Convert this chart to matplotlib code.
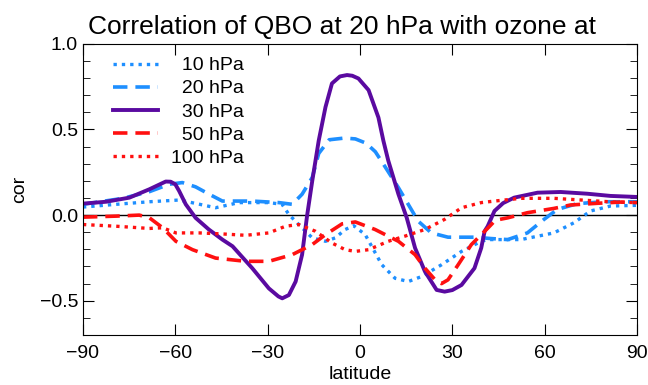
import matplotlib.pyplot as plt
import numpy as np

plt.rcParams['font.family'] = ['Liberation Sans', 'DejaVu Sans']

# latitude / correlation pairs, one pair of lists per level
lat_10 = [-90, -79.2, -68.4, -58.8, -54.4, -46.9, -39.3, -29.6, -25.3, -23.1, -19.9, -15.5, -11.2, -8, -4.8, -2, 1.7,
          7.1, 11.4, 15.7, 20, 26.5, 33, 39.4, 41.5, 52.3, 63, 69.5, 74.9, 81.4, 90]
cor_10 = [0.047, 0.063, 0.078, 0.088, 0.072, 0.043, 0.073, 0.073, 0.063, 0.004, -0.055, -0.133, -0.153, -0.133, -0.084, -0.062, -0.114,
          -0.29, -0.369, -0.388, -0.359, -0.29, -0.212, -0.153, -0.143, -0.143, -0.104, -0.045, 0.024, 0.053, 0.057]

lat_20 = [-90, -77, -68.4, -62, -57.7, -53.4, -49, -44.7, -35, -26.3, -22, -18.8, -15.5, -13.4, -10, -5, -1.5, 2, 5,
          7.6, 12.5, 18.9, 23.2, 28.6, 37.2, 42.6, 48, 54.4, 59.8, 64.1, 70.6, 79.2, 90]
cor_20 = [0.063, 0.098, 0.137, 0.18, 0.19, 0.165, 0.122, 0.082, 0.082, 0.073, 0.063, 0.122, 0.22, 0.36, 0.44, 0.45, 0.445, 0.42, 0.37,
          0.298, 0.16, -0.035, -0.104, -0.129, -0.129, -0.137, -0.143, -0.104, -0.025, 0.033, 0.067, 0.078, 0.078]

lat_30 = [-90, -82.5, -74.9, -68.4, -65, -63.1, -61.5, -60, -58.75, -56.6, -53.4, -49.1, -44.7, -41.4, -35, -29.6, -26.5,
          -25.25, -23.1, -20.9, -18.8, -17.2, -15.5, -13.4, -11.2, -9.1, -6.5, -4.2, -2.5, -0.5, 2.8, 6, 7.6, 9.2,
          12.5, 15.2, 17.9, 21.1, 24.9, 27.5, 30, 33, 37.2, 39.4, 40.5, 41.5, 43.7, 46.5, 50.1, 57.7, 65.2, 73.8, 81.4, 90]
cor_30 = [0.067, 0.078, 0.102, 0.151, 0.18, 0.196, 0.195, 0.18, 0.141, 0.063, -0.016, -0.084, -0.143, -0.182, -0.31, -0.428, -0.475,
          -0.486, -0.467, -0.388, -0.231, -0.006, 0.2, 0.435, 0.631, 0.769, 0.81, 0.818, 0.814, 0.798, 0.73, 0.57, 0.435, 0.318,
          0.122, -0.016, -0.192, -0.329, -0.437, -0.447, -0.438, -0.408, -0.31, -0.192, -0.094, -0.065, 0.024, 0.07, 0.102, 0.131, 0.135, 0.125, 0.112, 0.106]

lat_50 = [-90, -79.2, -71.7, -68.4, -64.1, -59.8, -54.4, -46.9, -37.1, -29.6, -22, -15.5, -11.2, -5.8, -1.5, 4.9, 12.5,
          17.9, 21.1, 24.9, 26.5, 28.6, 31.9, 36.2, 41.6, 44, 48, 54.4, 63, 68.4, 77.1, 84.6, 90]
cor_50 = [-0.012, -0.006, 0.0, -0.016, -0.074, -0.153, -0.202, -0.251, -0.27, -0.27, -0.231, -0.172, -0.114, -0.051, -0.04, -0.084, -0.153,
          -0.231, -0.31, -0.388, -0.4, -0.378, -0.29, -0.172, -0.075, -0.03, -0.016, 0.014, 0.039, 0.059, 0.069, 0.076, 0.073]

lat_100 = [-90, -79.2, -68.4, -64.1, -59.8, -52.3, -44.7, -37.1, -29.6, -24.2, -19.9, -14.5, -9.1, -4.8, -1.5, 2.8, 9.2,
           14.6, 21.1, 27.5, 33, 39.4, 43.7, 52.3, 63, 73.8, 82.5, 90]
cor_100 = [-0.055, -0.065, -0.078, -0.074, -0.104, -0.104, -0.11, -0.118, -0.104, -0.065, -0.055, -0.094, -0.163, -0.202, -0.212, -0.202, -0.153,
           -0.123, -0.084, -0.025, 0.043, 0.073, 0.082, 0.098, 0.098, 0.086, 0.076, 0.073]

# labels padded with a figure space so they line up on the right
labels = ['\u200710 hPa', '\u200720 hPa', '\u200730 hPa', '\u200750 hPa', '100 hPa']

blue = '#1e8fff'
purple = '#5a0aa0'
red = '#ff1010'

fig = plt.figure(figsize=(6.48, 3.85), dpi=100)
ax = fig.add_axes([0.128, 0.13, 0.855, 0.756])

ax.axhline(0, color='black', lw=1)
ax.plot(lat_10, cor_10, color=blue, lw=2.4, ls=(0, (1, 1.5)), label=labels[0])
ax.plot(lat_20, cor_20, color=blue, lw=2.6, ls=(0, (4, 2.2)), label=labels[1])
ax.plot(lat_30, cor_30, color=purple, lw=2.8, ls='-', label=labels[2])
ax.plot(lat_50, cor_50, color=red, lw=2.6, ls=(0, (4, 2.2)), label=labels[3])
ax.plot(lat_100, cor_100, color=red, lw=2.4, ls=(0, (1, 1.5)), label=labels[4])

ax.set_xlim(-90, 90)
ax.set_ylim(-0.7, 1.0)
ax.set_xticks(np.arange(-90, 91, 30))
ax.set_yticks([-0.5, 0.0, 0.5, 1.0])
ax.set_yticks(np.arange(-0.7, 1.0, 0.1), minor=True)
ax.tick_params(which='both', direction='in', top=True, right=True, labelsize=14)
ax.tick_params(which='major', length=8)
ax.tick_params(which='minor', length=5)
ax.tick_params(axis='x', which='major', pad=7)

ax.set_xlabel('latitude', fontsize=14, labelpad=3)
ax.set_ylabel('cor', fontsize=14, labelpad=8)
ax.set_title('Correlation of QBO at 20 hPa with ozone at', fontsize=19, pad=7, x=0.468)

ax.legend(loc='upper left', bbox_to_anchor=(0.047, 0.969), frameon=False, fontsize=14,
          handlelength=2.3, handletextpad=0.7, labelspacing=0.28, borderaxespad=0, borderpad=0.2)

fig.savefig('out.png', dpi=100)
